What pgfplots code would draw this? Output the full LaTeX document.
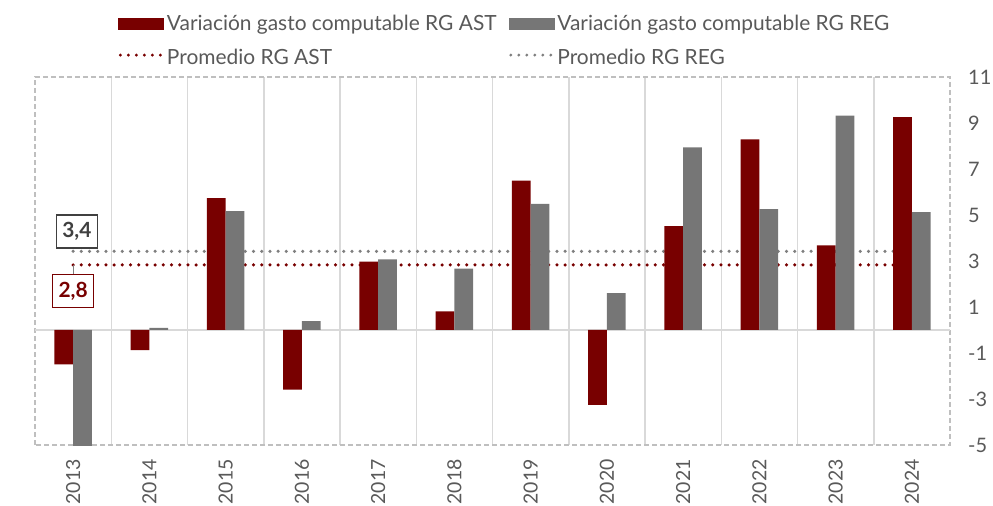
\documentclass[border=0pt]{standalone}
\usepackage{fontspec}
\setmainfont{Lato}
\usepackage{pgfplots}
\pgfplotsset{compat=1.18}
\definecolor{astred}{HTML}{780000}
\definecolor{reggray}{HTML}{767676}
\definecolor{avggray}{HTML}{7F7F7F}
\definecolor{txtgray}{HTML}{595959}
\definecolor{gridgray}{HTML}{D9D9D9}
\definecolor{boxgray}{HTML}{404040}
\definecolor{framegray}{HTML}{BFBFBF}
\begin{document}
\begin{tikzpicture}[font=\fontsize{21}{25}\selectfont]
\path[use as bounding box] (-35bp,-61bp) rectangle (958bp,445bp);
\begin{axis}[
  at={(0,0)}, anchor=south west,
  scale only axis, width=915bp, height=368bp,
  xmin=-0.5, xmax=11.5, ymin=-5, ymax=11,
  xtick={0,1,2,3,4,5,6,7,8,9,10,11},
  xticklabels={2013,2014,2015,2016,2017,2018,2019,2020,2021,2022,2023,2024},
  x tick label style={rotate=90, anchor=east, inner sep=0pt, text=txtgray, font=\fontsize{19.5}{23}\selectfont},
  xticklabel shift=14bp,
  ytick={-5,-3,-1,1,3,5,7,9,11},
  yticklabels={-5,-3,-1,1,3,5,7,9,11},
  yticklabel pos=right,
  y tick label style={anchor=west, inner sep=0pt, text=txtgray, font=\fontsize{20}{24}\selectfont},
  yticklabel shift=18bp,
  major tick length=0pt, minor tick length=0pt,
  minor xtick={0.5,1.5,2.5,3.5,4.5,5.5,6.5,7.5,8.5,9.5,10.5},
  xminorgrids=true,
  minor grid style={gridgray, line width=1.5bp},
  extra y ticks={0}, extra y tick labels={},
  extra y tick style={ymajorgrids=true, major grid style={gridgray, line width=2bp}},
  axis line style={framegray, line width=1.2bp, dash pattern=on 5bp off 3bp},
  clip=true,
  legend columns=2,
  legend cell align=left,
  legend style={at={(axis description cs:0,1)}, anchor=south west, xshift=80bp, yshift=7bp,
    draw=none, fill=none, text=txtgray, font=\fontsize{21}{25}\selectfont,
    row sep=13bp, /tikz/every even column/.append style={column sep=10bp}},
]
\addlegendimage{legend image code/.code={\fill[astred] (0bp,-5.5bp) rectangle (45bp,5.5bp);}}
\addlegendentry{Variación gasto computable RG AST}
\addlegendimage{legend image code/.code={\fill[reggray] (0bp,-5.5bp) rectangle (45bp,5.5bp);}}
\addlegendentry{Variación gasto computable RG REG}
\addlegendimage{legend image code/.code={\draw[astred, line width=3.2bp, line cap=round, dash pattern=on 0bp off 8bp] (2bp,0) -- (45bp,0);}}
\addlegendentry{Promedio RG AST}
\addlegendimage{legend image code/.code={\draw[avggray, line width=3.2bp, line cap=round, dash pattern=on 0bp off 8bp] (2bp,0) -- (45bp,0);}}
\addlegendentry{Promedio RG REG}

\addplot[avggray, line width=3.5bp, line cap=round, dash pattern=on 0bp off 8.2bp, forget plot]
  coordinates {(0,3.42) (11,3.42)};
\addplot[astred, line width=3.5bp, line cap=round, dash pattern=on 0bp off 8.2bp, forget plot]
  coordinates {(0,2.83) (11,2.83)};

\addplot[ybar, bar width=18.7bp, bar shift=-9.35bp, fill=astred, draw=none, forget plot]
  coordinates {(0,-1.49) (1,-0.87) (2,5.73) (3,-2.59) (4,2.97) (5,0.81) (6,6.49) (7,-3.26) (8,4.52) (9,8.29) (10,3.68) (11,9.26)};
\addplot[ybar, bar width=18.7bp, bar shift=9.35bp, fill=reggray, draw=none, forget plot]
  coordinates {(0,-5.1) (1,0.09) (2,5.17) (3,0.39) (4,3.07) (5,2.67) (6,5.48) (7,1.6) (8,7.94) (9,5.25) (10,9.32) (11,5.13)};

\draw[avggray, line width=0.8bp] (axis cs:0,2.83) -- (axis cs:0,2.39);
\node[draw=boxgray, line width=1.2bp, fill=white, text=boxgray, font=\fontsize{21}{25}\selectfont\bfseries,
  minimum width=41bp, minimum height=33bp, inner sep=0pt] at (axis cs:0.05,4.28) {3,4};
\node[draw=astred, line width=1.2bp, fill=white, text=astred, font=\fontsize{21}{25}\selectfont\bfseries,
  minimum width=41bp, minimum height=33bp, inner sep=0pt] at (axis cs:0,1.70) {2,8};
\node[xshift=-14bp, rotate=90, text=txtgray] at (rel axis cs:0,0.5) {\% variación};
\end{axis}
\end{tikzpicture}
\end{document}
